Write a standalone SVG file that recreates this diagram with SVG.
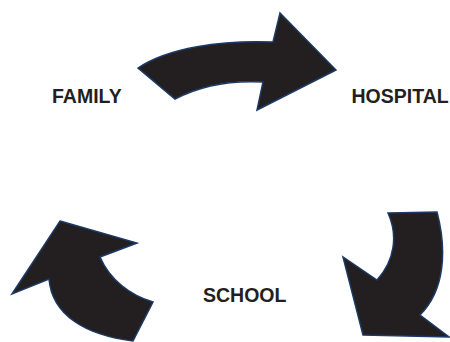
<svg xmlns="http://www.w3.org/2000/svg" width="450" height="342" viewBox="0 0 450 342">
<style>
.arrow{fill:#231f20;stroke:#1c3a66;stroke-width:1.5;stroke-linejoin:miter}
.lbl{font-family:"Liberation Sans",Arial,sans-serif;font-weight:bold;font-size:19.5px;fill:#231f20}
</style>
<rect width="450" height="342" fill="#ffffff"/>
<g id="connectors">
<path class="arrow" d="M138,68 C168,48 220,40 273,42 L280,13 L336,70 L257,110 L263,82 C228,80 200,86 175,99 Z"/>
<path class="arrow" d="M388,213 L437,212 C447,250 445,290 420,315 L449,337 L363,335 L343,257 L377,280 C395,260 398,235 388,213 Z"/>
<path class="arrow" d="M60,221 L137,243 L100,257 C110,280 130,295 153,302 L133,341 C85,335 52,315 49,279 L12,294 Z"/>
</g>
<g id="family"><text class="lbl" x="52" y="103.3">FAMILY</text></g>
<g id="hospital"><text class="lbl" x="351.5" y="103.3">HOSPITAL</text></g>
<g id="school"><text class="lbl" x="203" y="301.7">SCHOOL</text></g>
</svg>
